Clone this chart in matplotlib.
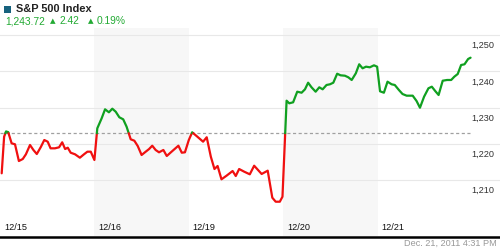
import matplotlib
matplotlib.use("Agg")
import matplotlib.pyplot as plt
import numpy as np

# ---- data ----
day_labels = ["12/15", "12/16", "12/19", "12/20", "12/21"]
ref_level = 1222.9
y_ticks = [1210, 1220, 1230, 1240, 1250]
y_tick_labels = ["1,210", "1,220", "1,230", "1,240", "1,250"]

# minutes since open, per day
t_d0 = [7, 17, 25, 34, 48, 62, 78, 94, 107, 124, 138, 152, 168, 183, 197, 209,
        227, 244, 257, 269, 280, 292, 310, 330, 347, 361, 375, 390]
v_d0 = [1211.85, 1221.94, 1223.4, 1223.2, 1220.12, 1219.85, 1215.24, 1215.79,
        1217.09, 1219.66, 1218.28, 1217.17, 1219.02, 1221.03, 1220.57, 1218.74,
        1218.74, 1219.02, 1220.40, 1218.55, 1218.91, 1217.53, 1217.09, 1216.15,
        1217.09, 1217.81, 1217.81, 1215.52]

t_d1 = [12, 30, 44, 60, 74, 88, 103, 119, 133, 150, 165, 179, 195, 212, 226,
        239, 253, 267, 285, 299, 316, 347, 361, 374, 390]
v_d1 = [1224.26, 1227.02, 1229.50, 1228.68, 1229.67, 1228.84, 1227.30, 1226.74,
        1224.70, 1221.23, 1220.84, 1219.38, 1216.90, 1217.81, 1218.55, 1219.46,
        1218.28, 1217.64, 1218.28, 1216.62, 1217.64, 1219.46, 1217.53, 1217.64,
        1221.03]

t_d2 = [14, 32, 59, 74, 91, 106, 119, 135, 156, 181, 194, 208, 229, 252, 270,
        301, 326, 345, 359, 376, 387]
v_d2 = [1223.16, 1222.14, 1220.57, 1221.79, 1216.43, 1213.03, 1213.86, 1210.19,
        1211.19, 1212.48, 1211.10, 1213.03, 1212.29, 1211.57, 1213.94, 1211.66,
        1212.57, 1205.12, 1204.01, 1204.01, 1205.39]

t_d3 = [14, 25, 41, 58, 76, 90, 103, 117, 134, 149, 163, 179, 193, 207, 223,
        237, 255, 269, 283, 300, 314, 328, 342, 358, 375, 388]
v_d3 = [1231.88, 1231.16, 1231.43, 1234.36, 1234.08, 1235.02, 1236.84, 1235.57,
        1234.36, 1235.57, 1235.02, 1236.21, 1236.40, 1236.84, 1239.32, 1238.88,
        1238.77, 1238.33, 1237.59, 1239.43, 1241.92, 1240.81, 1241.26, 1241.09,
        1241.64, 1241.26]

t_d4 = [10, 26, 41, 58, 71, 88, 103, 120, 145, 161, 175, 192, 210, 224, 238,
        252, 269, 287, 304, 317, 331, 345, 359, 374, 384]
v_d4 = [1234.47, 1234.08, 1237.12, 1236.40, 1236.21, 1234.83, 1233.72, 1233.26,
        1233.26, 1231.79, 1229.94, 1232.98, 1235.30, 1235.74, 1234.55, 1233.45,
        1237.39, 1237.59, 1237.59, 1238.50, 1239.24, 1241.72, 1241.92, 1243.38,
        1243.74]

last_price = "1,243.72"
change = "2.42"
change_pct = "0.19%"
timestamp = "Dec. 21, 2011 4:31 PM"
title = "S&P 500 Index"

# ---- build series ----
session = 390.0
times = [t_d0, t_d1, t_d2, t_d3, t_d4]
vals = [v_d0, v_d1, v_d2, v_d3, v_d4]
xs, ys = [], []
for d, (tt, vv) in enumerate(zip(times, vals)):
    for t, v in zip(tt, vv):
        xs.append(d + t / session)
        ys.append(v)
xs = np.array(xs)
ys = np.array(ys)

RED = "#f01010"
GREEN = "#10a020"

W, H = 500, 250
fig = plt.figure(figsize=(W / 100, H / 100), dpi=100)
fig.patch.set_facecolor("white")

day_px = 94.4
ax_top, ax_bot = 28, 236
ax = fig.add_axes([0, 1 - ax_bot / H, 1, (ax_bot - ax_top) / H])
ax.set_xlim(0, W / day_px)
# y mapping: 1250 at y=35, 1210 at y=180 px
ppu = (180 - 35) / 40.0
ax.set_ylim(1250 - (ax_bot - 35) / ppu, 1250 + (35 - ax_top) / ppu)
ax.set_facecolor("white")
for s in ax.spines.values():
    s.set_visible(False)
ax.set_xticks([])
ax.set_yticks([])

# alternating day shading
for d in range(len(day_labels)):
    if d % 2 == 1:
        ax.axvspan(d, d + 1, color="#f7f7f7", zorder=0, lw=0)

# grid lines
for yt in y_ticks:
    ax.axhline(yt, color="#e8e8e8", lw=0.8, zorder=1)

# reference dashed line
ax.plot([0, 470 / day_px], [ref_level, ref_level], color="#a0a0a0", lw=0.9,
        ls=(0, (2.5, 2)), zorder=2)

# colored line split at reference level
px_, py_ = [xs[0]], [ys[0]]
for i in range(1, len(xs)):
    a, b = ys[i - 1] - ref_level, ys[i] - ref_level
    if a * b < 0:
        f = a / (a - b)
        px_.append(xs[i - 1] + f * (xs[i] - xs[i - 1]))
        py_.append(ref_level)
    px_.append(xs[i])
    py_.append(ys[i])
px_ = np.array(px_)
py_ = np.array(py_)
start = 0
for i in range(1, len(px_)):
    seg_above = (py_[i - 1] + py_[i]) / 2 >= ref_level
    end_run = (i == len(px_) - 1)
    if not end_run:
        nxt_above = (py_[i] + py_[i + 1]) / 2 >= ref_level
        end_run = nxt_above != seg_above
    if end_run:
        ax.plot(px_[start:i + 1], py_[start:i + 1], color=GREEN if seg_above else RED,
                lw=1.6, solid_joinstyle="round", solid_capstyle="round", zorder=3)
        start = i

FONT = ["Liberation Sans", "DejaVu Sans"]

# y tick labels (right side, below grid lines)
for yt, lab in zip(y_ticks, y_tick_labels):
    ax.annotate(lab, xy=(494 / W, yt), xycoords=("figure fraction", "data"),
                xytext=(0, -4.5), textcoords="offset points",
                ha="right", va="top", fontsize=6.6, color="#333333", family=FONT)

# day labels
for d, lab in enumerate(day_labels):
    fig.text((d * day_px + 4) / W, 1 - 228 / H, lab, ha="left", va="center",
             fontsize=6.6, color="#111111", family=FONT)

# bottom axis line
fig.add_artist(plt.Line2D([0, 1], [1 - 236.5 / H, 1 - 236.5 / H], color="black", lw=1.8))

# timestamp
fig.text(497 / W, 1 - 243 / H, timestamp, ha="right", va="center", fontsize=6.6,
         color="#999999", family=FONT)

# header
fig.patches.append(plt.Rectangle((4 / W, 1 - 13 / H), 7 / W, 7 / H, transform=fig.transFigure,
                                 color="#17627e", lw=0))
fig.text(16 / W, 1 - 9.5 / H, title, ha="left", va="center", fontsize=7.9,
         fontweight="bold", color="#222222", family=FONT)
hg = "#22aa33"
fig.text(5 / W, 1 - 21 / H, last_price, ha="left", va="center", fontsize=7.4,
         color=hg, family=FONT)
fig.text(49.5 / W, 1 - 21 / H, "\u25B2", ha="left", va="center", fontsize=5.2,
         color=hg, family=["DejaVu Sans"])
fig.text(60 / W, 1 - 21 / H, change, ha="left", va="center", fontsize=7.4,
         color=hg, family=FONT)
fig.text(87.5 / W, 1 - 21 / H, "\u25B2", ha="left", va="center", fontsize=5.2,
         color=hg, family=["DejaVu Sans"])
fig.text(97 / W, 1 - 21 / H, change_pct, ha="left", va="center", fontsize=7.4,
         color=hg, family=FONT)

fig.savefig("out.png", dpi=100)
